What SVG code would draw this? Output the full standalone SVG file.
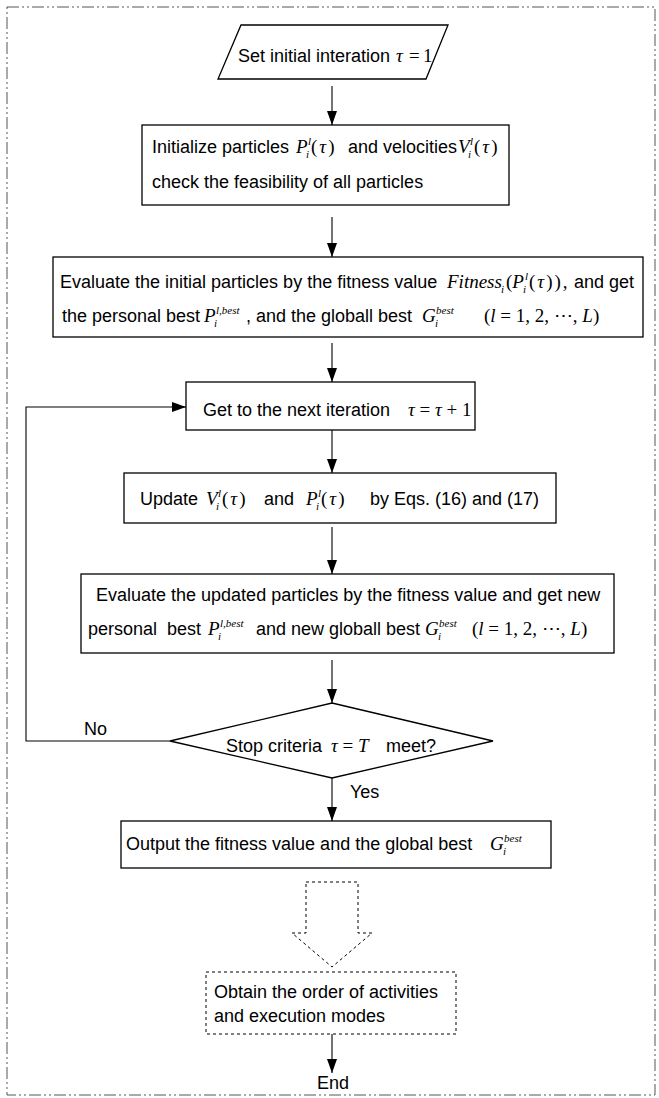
<svg xmlns="http://www.w3.org/2000/svg" width="659" height="1098" viewBox="0 0 659 1098">
<style>
.bx{fill:#fff;stroke:#000;stroke-width:1.3}
.dbx{fill:none;stroke:#000;stroke-width:1;stroke-dasharray:3 3}
.ln{fill:none;stroke:#000;stroke-width:1.1}
.t{font-family:"Liberation Sans",Arial,sans-serif;font-size:18px;fill:#000}
.m{font-family:"Liberation Serif","Times New Roman",serif;font-style:italic;font-size:19px;fill:#000}
.r{font-family:"Liberation Serif","Times New Roman","DejaVu Serif",serif;font-size:19px;fill:#000}
.p{letter-spacing:2px}
.s{font-family:"Liberation Serif","Times New Roman",serif;font-style:italic;font-size:11px;fill:#000}
</style>
<defs>
<marker id="ah" markerUnits="userSpaceOnUse" markerWidth="16" markerHeight="12" refX="14" refY="5" orient="auto">
<path d="M0,0 L14,5 L0,10 Z" fill="#000"/>
</marker>
</defs>
<rect id="frame" x="7" y="7" width="648" height="1088" fill="none" stroke="#555" stroke-width="1" stroke-dasharray="12 3 2 3 2 3"/>
<g id="connectors">
<line class="ln" x1="332" y1="86" x2="332" y2="125" marker-end="url(#ah)"/>
<line class="ln" x1="332" y1="217" x2="332" y2="257" marker-end="url(#ah)"/>
<line class="ln" x1="332" y1="343" x2="332" y2="382" marker-end="url(#ah)"/>
<line class="ln" x1="332" y1="430" x2="332" y2="473" marker-end="url(#ah)"/>
<line class="ln" x1="332" y1="527" x2="332" y2="574" marker-end="url(#ah)"/>
<line class="ln" x1="332" y1="660" x2="332" y2="703" marker-end="url(#ah)"/>
<path class="ln" d="M170,741 H26 V407 H186" marker-end="url(#ah)"/>
<text class="t" x="84" y="735">No</text>
<line class="ln" x1="332" y1="778" x2="332" y2="821" marker-end="url(#ah)"/>
<text class="t" x="350" y="798">Yes</text>
<path id="bigArrow" d="M306,882 H358 V933 H372 L332,967 L292,933 H306 Z" fill="none" stroke="#000" stroke-width="1" stroke-dasharray="3 3"/>
<line class="ln" x1="332" y1="1034" x2="332" y2="1073" marker-end="url(#ah)"/>
<text class="t" x="317" y="1089">End</text>
</g>
<g id="start">
<polygon class="bx" points="241,25 448,25 426,79 218,79"/>
<text class="t" x="238" y="62">Set initial interation</text>
<text class="m" x="396" y="62">τ</text><text class="r" x="409" y="62">=</text><text class="r" x="423" y="62">1</text>
</g>
<g id="init">
<rect class="bx" x="142" y="125" width="367" height="80"/>
<text class="t" x="152" y="153">Initialize particles</text>
<text class="m" x="296" y="153">P</text><text class="s" x="308" y="145">l</text><text class="s" x="306" y="158">i</text><text class="r p" x="311" y="153">(<tspan class="m">τ</tspan>)</text>
<text class="t" x="348" y="153">and velocities</text>
<text class="m" x="458" y="153">V</text><text class="s" x="470" y="145">l</text><text class="s" x="468" y="158">i</text><text class="r p" x="474" y="153">(<tspan class="m">τ</tspan>)</text>
<text class="t" x="152" y="188">check the feasibility of all particles</text>
</g>
<g id="evalInit">
<rect class="bx" x="53" y="257" width="590" height="80"/>
<text class="t" x="60" y="288">Evaluate the initial particles by the fitness value</text>
<text class="m" x="447" y="288">Fitness</text><text class="s" x="501" y="293">i</text>
<text class="r" x="506" y="288">(<tspan class="m">P</tspan></text><text class="s" x="525" y="280">l</text><text class="s" x="523" y="293">i</text><text class="r p" x="529" y="288">(<tspan class="m">τ</tspan>)),</text>
<text class="t" x="574" y="288">and get</text>
<text class="t" x="62" y="322">the personal best</text>
<text class="m" x="204" y="322">P</text><text class="s" x="216" y="314">l,best</text><text class="s" x="214" y="327">i</text>
<text class="t" x="246" y="322">, and the globall best</text>
<text class="m" x="422" y="322">G</text><text class="s" x="436" y="314">best</text><text class="s" x="435" y="327">i</text>
<text class="r" x="484" y="322">(<tspan class="m">l</tspan> = 1, 2, ⋯, <tspan class="m">L</tspan>)</text>
</g>
<g id="nextIter">
<rect class="bx" x="186" y="382" width="289" height="48"/>
<text class="t" x="203" y="416">Get to the next iteration</text>
<text class="r" x="408" y="416"><tspan class="m">τ</tspan> = <tspan class="m">τ</tspan> + 1</text>
</g>
<g id="update">
<rect class="bx" x="124" y="473" width="432" height="50"/>
<text class="t" x="140" y="505">Update</text>
<text class="m" x="206" y="505">V</text><text class="s" x="218" y="497">l</text><text class="s" x="216" y="510">i</text><text class="r p" x="222" y="505">(<tspan class="m">τ</tspan>)</text>
<text class="t" x="264" y="505">and</text>
<text class="m" x="306" y="505">P</text><text class="s" x="318" y="497">l</text><text class="s" x="316" y="510">i</text><text class="r p" x="321" y="505">(<tspan class="m">τ</tspan>)</text>
<text class="t" x="370" y="505">by Eqs. (16) and (17)</text>
</g>
<g id="evalUpd">
<rect class="bx" x="81" y="574" width="533" height="79"/>
<text class="t" x="96" y="601">Evaluate the updated particles by the fitness value and get new</text>
<text class="t" x="88" y="635" xml:space="preserve">personal  best</text>
<text class="m" x="208" y="635">P</text><text class="s" x="220" y="627">l,best</text><text class="s" x="218" y="640">i</text>
<text class="t" x="256" y="635">and new globall best</text>
<text class="m" x="425" y="635">G</text><text class="s" x="439" y="627">best</text><text class="s" x="438" y="640">i</text>
<text class="r" x="472" y="635">(<tspan class="m">l</tspan> = 1, 2, ⋯, <tspan class="m">L</tspan>)</text>
</g>
<g id="stop">
<polygon class="bx" points="332,703 493,741 332,778 170,741"/>
<text class="t" x="226" y="752">Stop criteria</text>
<text class="r" x="331" y="752"><tspan class="m">τ</tspan> = <tspan class="m">T</tspan></text>
<text class="t" x="386" y="752">meet?</text>
</g>
<g id="output">
<rect class="bx" x="121" y="821" width="430" height="47"/>
<text class="t" x="126" y="850">Output the fitness value and the global best</text>
<text class="m" x="490" y="850">G</text><text class="s" x="504" y="842">best</text><text class="s" x="503" y="855">i</text>
</g>
<g id="obtain">
<rect class="dbx" x="206" y="972" width="250" height="62"/>
<text class="t" x="214" y="998">Obtain the order of activities</text>
<text class="t" x="214" y="1022">and execution modes</text>
</g>
</svg>
